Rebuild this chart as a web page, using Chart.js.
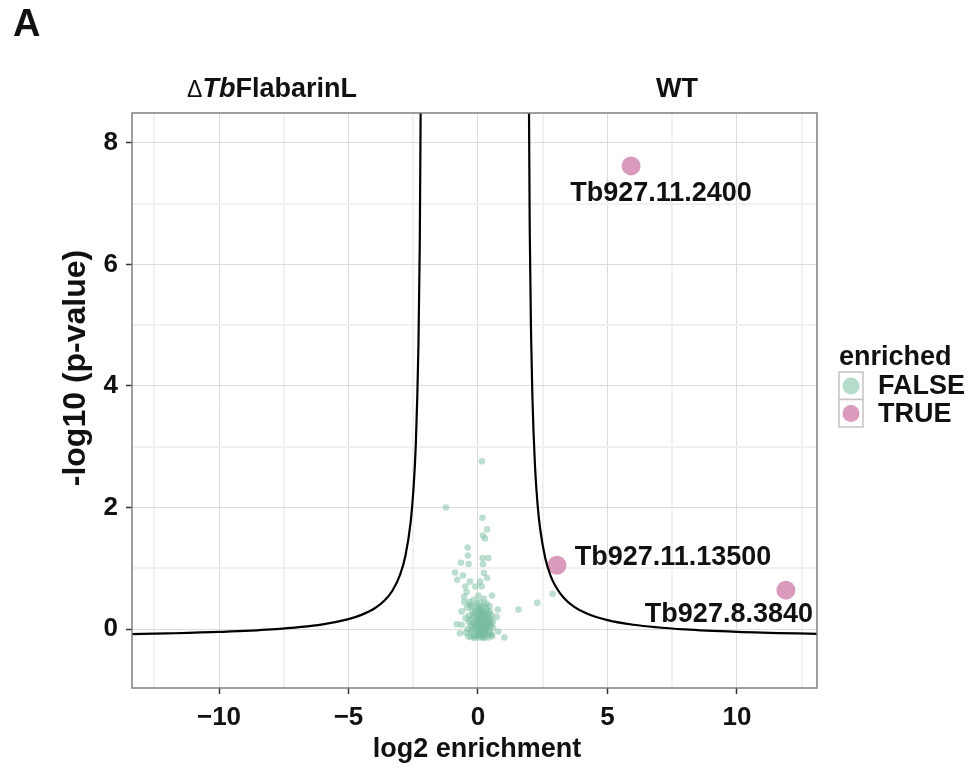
<!DOCTYPE html>
<html><head><meta charset="utf-8">
<script src="https://cdn.jsdelivr.net/npm/chart.js@4/dist/chart.umd.min.js"></script>
<style>html,body{margin:0;padding:0;background:#fff}#wrap{width:973px;height:770px;position:relative}</style>
</head><body><div id="wrap"><canvas id="c" width="973" height="770"></canvas></div>
<script>
// ---------- data ----------
const xLimits = [-13.36, 13.09];
const yLimits = [-0.97, 8.49];
const xTickValues = [-12.5, -10, -7.5, -5, -2.5, 0, 2.5, 5, 7.5, 10, 12.5];
const xMajorTicks = [-10, -5, 0, 5, 10];
const yTickValues = [0, 1, 2, 3, 4, 5, 6, 7, 8];
const yMajorTicks = [0, 2, 4, 6, 8];

const facetLabels = ['WT'];
const xTitle = 'log2 enrichment';
const yTitle = '-log10 (p-value)';
const legendTitle = 'enriched';
const legendLabels = ['FALSE', 'TRUE'];

// enriched == FALSE
const falseX = [0.15,-1.24,0.17,0.35,0.19,0.27,-0.40,-0.39,0.18,0.40,-0.66,-0.36,0.19,-0.89,0.23,-0.58,-0.80,0.35,-0.31,0.08,-0.10,0.14,-0.49,-0.44,0.01,0.54,-0.54,0.23,2.29,2.88,1.56,-0.53,-0.31,0.33,0.77,-0.63,0.46,0.72,0.57,-0.82,-0.63,0.78,1.02,-0.70,0.53,
 -0.42,-0.35,-0.30,-0.28,-0.25,-0.22,-0.20,-0.18,-0.15,-0.12,-0.10,-0.08,-0.06,-0.05,-0.03,-0.02,0.00,0.01,0.02,0.03,0.04,0.05,0.06,0.07,0.08,0.09,0.10,0.11,0.12,0.13,0.14,0.15,0.16,0.17,0.18,0.19,0.20,0.21,0.22,0.23,0.24,0.25,0.27,0.28,0.30,0.31,0.33,0.35,0.37,0.39,0.41,0.43,0.45,0.48,0.50,0.55,
 -0.40,-0.38,-0.33,-0.26,-0.16,-0.14,-0.09,-0.04,0.00,0.02,0.04,0.06,0.08,0.10,0.12,0.14,0.16,0.18,0.20,0.22,0.24,0.26,0.29,0.32,0.36,0.40,0.44,0.47,0.52,0.58,-0.48,-0.46,-0.20,-0.11,0.03,0.07,0.11,0.15,0.19,0.23,
 -0.36,-0.24,-0.13,-0.01,0.05,0.09,0.13,0.21,0.26,0.34,0.42,0.49,-0.27,-0.17,-0.07,0.01,0.11,0.17,0.25,0.31,0.38];
const falseY = [2.76,2.00,1.83,1.64,1.54,1.49,1.34,1.21,1.17,1.17,1.09,1.07,1.07,0.93,0.92,0.88,0.81,0.84,0.78,0.78,0.70,0.70,0.70,0.61,0.55,0.55,0.53,0.50,0.43,0.58,0.32,0.44,0.40,0.42,0.32,0.29,0.29,0.20,0.12,0.08,0.07,-0.04,-0.14,-0.07,-0.09,
 0.35,0.22,0.15,0.05,-0.05,0.30,0.10,-0.10,0.20,0.02,-0.12,0.38,0.12,-0.03,0.25,0.06,-0.08,0.16,0.32,-0.14,0.03,0.21,0.10,-0.05,0.45,0.28,0.00,0.14,-0.11,0.36,0.07,0.22,-0.02,0.11,0.30,-0.07,0.04,0.18,0.40,-0.13,0.09,0.26,0.01,0.15,-0.06,0.34,0.08,0.20,-0.10,0.12,0.03,0.25,-0.04,0.16,0.06,-0.12,
 0.00,-0.12,0.45,0.38,0.48,-0.15,0.30,0.42,0.19,-0.02,0.12,0.35,-0.10,0.24,0.05,0.17,-0.12,0.09,0.27,-0.03,0.19,-0.09,0.23,0.00,0.30,-0.14,0.38,-0.08,0.22,0.02,0.18,-0.06,0.22,0.08,0.08,0.15,-0.04,0.02,0.13,0.06,
 0.12,-0.02,0.27,-0.09,0.33,0.05,0.19,-0.15,0.10,0.02,0.18,0.09,-0.13,0.04,0.14,-0.11,-0.06,0.28,-0.01,0.13,0.07];

// enriched == TRUE
const trueX = [5.91, 3.05, 11.89];
const trueY = [7.62, 1.05, 0.64];
const trueNames = ['Tb927.11.2400', 'Tb927.11.13500', 'Tb927.8.3840'];

// threshold curve
const curveLeftX = [-13.5,-12,-10,-8,-6,-5,-4.5,-4,-3.6,-3.3,-3.0,-2.8,-2.6,-2.5,-2.4,-2.3,-2.25,-2.2,-2.17];
const curveLeftY = [-0.085,-0.072,-0.048,-0.006,0.078,0.163,0.233,0.338,0.474,0.635,0.903,1.21,1.76,2.25,3.05,4.66,6.27,9.49,13.63];
const curveRightX = [1.92,1.95,2.0,2.05,2.1,2.2,2.3,2.4,2.6,2.8,3.0,3.3,3.7,4.2,5,6,8,10,13.5];
const curveRightY = [14.12,9.83,6.50,4.83,3.83,2.69,2.05,1.65,1.16,0.88,0.70,0.52,0.37,0.256,0.147,0.071,-0.007,-0.047,-0.084];

// ---------- chart ----------
const zip = (xs, ys) => xs.map((x, i) => ({ x: x, y: ys[i] }));
const FONT = '"Liberation Sans", Arial, Helvetica, sans-serif';
const GREEN = 'rgba(120,190,160,0.5)';
const PINK = 'rgba(205,120,165,0.75)';
const fmt = v => String(v).replace('-', '\u2212');

function gridStyle(majors) {
  return {
    color: c => (c.tick && majors.includes(c.tick.value)) ? '#dcdcdc' : '#f1f1f1',
    lineWidth: c => (c.tick && majors.includes(c.tick.value)) ? 1 : 2,
    tickColor: c => (c.tick && majors.includes(c.tick.value)) ? '#333' : 'rgba(0,0,0,0)',
    tickWidth: 1.5,
    tickLength: 6,
    drawTicks: true
  };
}

const decor = {
  id: 'decor',
  afterDraw(chart) {
    const ctx = chart.ctx, a = chart.chartArea;
    const xs = chart.scales.x, ys = chart.scales.y;
    ctx.save();
    // panel border
    ctx.strokeStyle = '#7f7f7f'; ctx.lineWidth = 1.5;
    ctx.strokeRect(a.left, a.top, a.right - a.left, a.bottom - a.top);
    ctx.fillStyle = '#111';
    // point labels
    const offs = [[30, 28], [116, -8], [-57, 24]];
    ctx.font = 'bold 27px ' + FONT; ctx.textAlign = 'center'; ctx.textBaseline = 'middle';
    trueNames.forEach((n, i) => {
      const px = xs.getPixelForValue(trueX[i]), py = ys.getPixelForValue(trueY[i]);
      ctx.fillText(n, px + offs[i][0], py + offs[i][1]);
    });
    // panel letter
    ctx.textAlign = 'left'; ctx.textBaseline = 'alphabetic';
    ctx.font = 'bold 38px ' + FONT; ctx.fillText('A', 13, 36);
    // facet labels
    ctx.font = 'bold 27px ' + FONT; ctx.textAlign = 'center';
    ctx.fillText(facetLabels[0], 677, 97);
    const parts = [['\u0394', 'normal 23px ' + FONT], ['Tb', 'italic bold 27px ' + FONT], ['FlabarinL', 'bold 27px ' + FONT]];
    let tot = 0; parts.forEach(p => { ctx.font = p[1]; tot += ctx.measureText(p[0]).width; });
    let cx = 272 - tot / 2; ctx.textAlign = 'left';
    parts.forEach(p => { ctx.font = p[1]; ctx.fillText(p[0], cx, 97); cx += ctx.measureText(p[0]).width; });
    // axis titles
    ctx.textAlign = 'center';
    ctx.font = 'bold 27px ' + FONT; ctx.fillText(xTitle, 477, 757);
    ctx.save(); ctx.translate(85, 368); ctx.rotate(-Math.PI / 2);
    ctx.font = 'bold 32px ' + FONT; ctx.fillText(yTitle, 0, 0); ctx.restore();
    // legend
    ctx.textAlign = 'left';
    ctx.font = 'bold 27px ' + FONT; ctx.fillText(legendTitle, 839, 365);
    legendLabels.forEach((lab, i) => {
      const top = 372 + i * 27.5;
      ctx.fillStyle = '#fff'; ctx.fillRect(839, top, 24, 27.5);
      ctx.strokeStyle = '#c4c4c4'; ctx.lineWidth = 1.5; ctx.strokeRect(839, top, 24, 27.5);
      ctx.fillStyle = i === 0 ? 'rgb(180,220,203)' : 'rgb(218,154,188)';
      ctx.beginPath(); ctx.arc(851, top + 14, 8.5, 0, Math.PI * 2); ctx.fill();
      ctx.fillStyle = '#111'; ctx.font = 'bold 27px ' + FONT; ctx.textBaseline = 'middle';
      ctx.fillText(lab, 878, top + 15); ctx.textBaseline = 'alphabetic';
    });
    ctx.restore();
  }
};

new Chart(document.getElementById('c'), {
  type: 'scatter',
  data: {
    datasets: [
      { data: zip(curveLeftX, curveLeftY), showLine: true, borderColor: '#000', borderWidth: 2.2, pointRadius: 0, cubicInterpolationMode: 'monotone', order: 0 },
      { data: zip(curveRightX, curveRightY), showLine: true, borderColor: '#000', borderWidth: 2.2, pointRadius: 0, cubicInterpolationMode: 'monotone', order: 0 },
      { data: zip(trueX, trueY), backgroundColor: PINK, borderWidth: 0, pointRadius: 9.5, order: 1 },
      { data: zip(falseX, falseY), backgroundColor: GREEN, borderWidth: 0, pointRadius: 3.3, order: 2 }
    ]
  },
  options: {
    responsive: false, animation: false,
    layout: { padding: { top: 113, right: 156, left: 0, bottom: 0 } },
    plugins: { legend: { display: false }, tooltip: { enabled: false } },
    scales: {
      x: {
        type: 'linear', min: xLimits[0], max: xLimits[1],
        afterBuildTicks: s => { s.ticks = xTickValues.map(v => ({ value: v })); },
        afterFit: s => { s.height = 82; },
        grid: gridStyle(xMajorTicks),
        border: { display: false },
        ticks: { autoSkip: false, maxRotation: 0, padding: 8, color: '#111', font: { family: FONT, size: 26, weight: 'bold' },
                 callback: v => xMajorTicks.includes(v) ? fmt(v) : '' }
      },
      y: {
        type: 'linear', min: yLimits[0], max: yLimits[1],
        afterBuildTicks: s => { s.ticks = yTickValues.map(v => ({ value: v })); },
        afterFit: s => { s.width = 132; },
        grid: gridStyle(yMajorTicks),
        border: { display: false },
        ticks: { autoSkip: false, padding: 8, color: '#111', font: { family: FONT, size: 26, weight: 'bold' },
                 callback: v => yMajorTicks.includes(v) ? fmt(v) : '' }
      }
    }
  },
  plugins: [decor]
});
</script>
</body></html>
